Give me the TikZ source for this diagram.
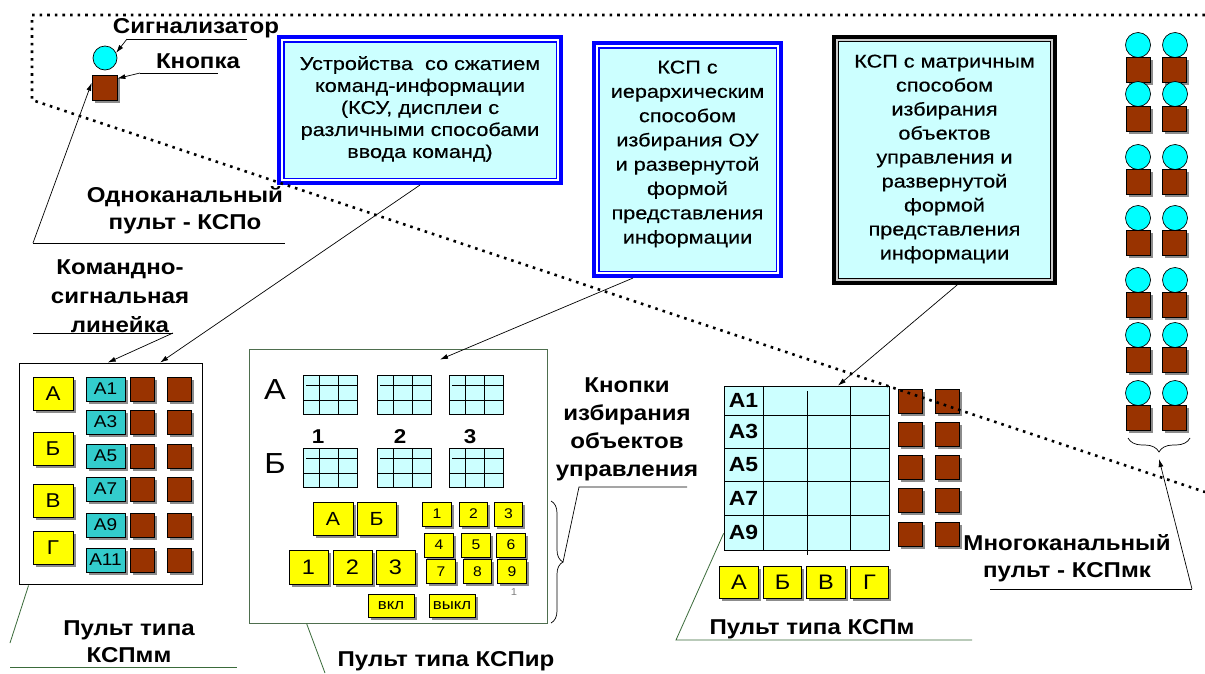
\documentclass[tikz,border=0pt]{standalone}
\usepackage{fontspec}
\setmainfont[FakeStretch=1.12]{Liberation Sans}
\newfontfamily\boxfont[FakeStretch=1.17,FakeBold=0.3]{Liberation Sans}
\usetikzlibrary{arrows.meta,shadows,calc,decorations.pathreplacing}

\definecolor{btnyellow}{HTML}{FFFF00}
\definecolor{btncyan}{HTML}{33CCCC}
\definecolor{lampcyan}{HTML}{00FFFF}
\definecolor{knobbrown}{HTML}{993300}
\definecolor{palecyan}{HTML}{CCFFFF}
\definecolor{frameblue}{HTML}{0000FF}
\definecolor{leadgreen}{HTML}{3A6B3A}
\definecolor{panelgreen}{HTML}{4E6E4E}

\tikzset{
  shd/.style={drop shadow={shadow xshift=2.5pt,shadow yshift=-2.5pt,fill=black!45,opacity=1}},
  ybtn/.style={shd,draw=black,line width=0.7pt,fill=btnyellow,inner sep=0,font=\fontsize{19}{19}\selectfont},
  cbtn/.style={shd,draw=black,line width=0.7pt,fill=btncyan,inner sep=0,
    minimum width=39pt,minimum height=24pt,font=\fontsize{17}{17}\selectfont},
  knob/.style={shd,draw=black,line width=0.7pt,fill=knobbrown,inner sep=0,
    minimum width=24pt,minimum height=24pt},
  lamp/.style={circle,draw=black,line width=0.7pt,fill=lampcyan,inner sep=0,minimum size=25pt},
  lbl/.style={font=\bfseries\fontsize{21.5}{27}\selectfont,align=center,inner sep=0},
  boxtext/.style={font=\boxfont\fontsize{18.5}{22}\selectfont,align=center,inner sep=0},
  arr/.style={-{Latex[length=8pt,width=5pt]},line width=0.7pt},
  lead/.style={line width=0.7pt},
  glead/.style={line width=0.8pt,draw=leadgreen},
  dotline/.style={line width=2.6pt,dash pattern=on 2.6pt off 5pt},
  bracedeco/.style={decorate,line width=0.7pt},
  kgrid/.pic={
    \draw[fill=palecyan,line width=0.8pt] (0,0) rectangle (54,39);
    \draw[line width=0.8pt] (16,0) -- (16,39) (35,0) -- (35,39)
      (3,10.5) -- (54,10.5) (0,25) -- (54,25);
  }
}

\begin{document}
\begin{tikzpicture}[x=1pt,y=-1pt]
\useasboundingbox (0,0) rectangle (1205,673);
\fill[white] (0,0) rectangle (1205,673);

% ---------- top boxes ----------
\node[draw=frameblue,line width=4pt,fill=palecyan,minimum width=282pt,minimum height=146pt,inner sep=0] (box1) at (420,110) {};
\draw[white,line width=2pt] ($(box1.north west)+(5,5)$) rectangle ($(box1.south east)+(-5,-5)$);
\draw[frameblue,line width=1.4pt] ($(box1.north west)+(6.8,6.8)$) rectangle ($(box1.south east)+(-6.8,-6.8)$);
\node[boxtext] (t1) at (420,109) {Устройства\ \ со сжатием\\команд-информации\\(КСУ, дисплеи с\\различными способами\\ввода команд)};

\node[draw=frameblue,line width=4pt,fill=palecyan,minimum width=187pt,minimum height=233pt,inner sep=0] (box2) at (687.5,159.5) {};
\draw[white,line width=2pt] ($(box2.north west)+(5,5)$) rectangle ($(box2.south east)+(-5,-5)$);
\draw[frameblue,line width=1.4pt] ($(box2.north west)+(6.8,6.8)$) rectangle ($(box2.south east)+(-6.8,-6.8)$);
\node[boxtext,font=\boxfont\fontsize{18.5}{24.3}\selectfont] (t2) at (687.5,154) {КСП с\\иерархическим\\способом\\избирания ОУ\\и развернутой\\формой\\представления\\информации};

\node[draw=black,line width=4pt,fill=palecyan,minimum width=221pt,minimum height=246pt,inner sep=0] (box3) at (944.5,160) {};
\draw[black!20,line width=2pt] ($(box3.north west)+(5,5)$) rectangle ($(box3.south east)+(-5,-5)$);
\draw[black,line width=1.2pt] ($(box3.north west)+(6.6,6.6)$) rectangle ($(box3.south east)+(-6.6,-6.6)$);
\node[boxtext,font=\boxfont\fontsize{18.5}{24}\selectfont] (t3) at (944.5,159) {КСП с матричным\\способом\\избирания\\объектов\\управления и\\развернутой\\формой\\представления\\информации};

% ---------- single channel element ----------
\node[lamp,minimum size=24pt] (sig) at (105,58) {};
\node[knob,minimum width=25pt,minimum height=25pt] (btn) at (104.5,87.5) {};

\node[lbl] (lsig) at (196,28) {Сигнализатор};
\node[lbl] (lbtn) at (198,61) {Кнопка};
\node[lbl] (lone) at (185,210) {Одноканальный\\пульт - КСПо};
\node[lbl,font=\bfseries\fontsize{21.5}{29}\selectfont] (lline) at (120,296) {Командно-\\сигнальная\\линейка};

\coordinate (uSa) at (127,39);  \coordinate (uSb) at (247,39);
\coordinate (uKa) at (140,73);  \coordinate (uKb) at (218,73);
\coordinate (uOa) at (33,243);  \coordinate (uOb) at (285,243);
\coordinate (uLa) at (33,333);  \coordinate (uLb) at (173,333);
\draw[lead] (uSa) -- (uSb);
\draw[lead] (uKa) -- (uKb);
\draw[lead] (uOa) -- (uOb);
\draw[lead] (uLa) -- (uLb);
\draw[arr] (uSa) -- (sig.25);
\draw[arr] (uKa) -- (btn.35);
\draw[arr] (uOa) -- (btn.160);

% ---------- panel КСПмм ----------
\node[draw=black,line width=0.9pt,minimum width=183pt,minimum height=221pt,inner sep=0] (pmm) at (110.5,473.5) {};
\foreach \t/\y [count=\i] in {А/394,Б/449,В/501,Г/548}
  \node[ybtn,minimum width=40pt,minimum height=33pt,font=\fontsize{20}{20}\selectfont] (my\i) at (53,\y) {\t};
\foreach \t/\y [count=\i] in {А1/389,А3/422,А5/456,А7/489,А9/525,А11/560}{
  \node[cbtn] (mc\i) at (105.5,\y) {\t};
  \node[knob] (mk\i) at (142,\y) {};
  \node[knob] (mq\i) at (179,\y) {};
}
\draw[arr] (uLb) -- ($(pmm.north west)!0.485!(pmm.north east)$);
\draw[arr] (box1.south) -- ($(pmm.north west)!0.77!(pmm.north east)$);

\coordinate (mmA) at (10,643);
\coordinate (mmB) at (10,667); \coordinate (mmC) at (237,667);
\draw[glead] ($(pmm.south west)+(10,1)$) -- (mmA);
\draw[glead] (mmB) -- (mmC);
\node[lbl] (lmm) at (129,642) {Пульт типа\\КСПмм};

% ---------- panel КСПир ----------
\node[draw=panelgreen,line width=0.9pt,minimum width=298pt,minimum height=274pt,inner sep=0] (pir) at (398,486) {};
\pic at (303,375) {kgrid};
\pic at (377,375) {kgrid};
\pic at (449,375) {kgrid};
\pic at (303,448) {kgrid};
\pic at (377,448) {kgrid};
\pic at (449,448) {kgrid};
\node[font=\fontsize{29}{29}\selectfont,inner sep=0] (gA) at (275,390) {А};
\node[font=\fontsize{29}{29}\selectfont,inner sep=0] (gB) at (275,464) {Б};
\node[font=\bfseries\fontsize{20}{20}\selectfont,inner sep=0] (n1) at (318,437) {1};
\node[font=\bfseries\fontsize{20}{20}\selectfont,inner sep=0] (n2) at (400,437) {2};
\node[font=\bfseries\fontsize{20}{20}\selectfont,inner sep=0] (n3) at (470,437) {3};

\node[ybtn,minimum width=40pt,minimum height=33pt] (iA) at (333,518.5) {А};
\node[ybtn,minimum width=39pt,minimum height=33pt] (iB) at (376.5,518.5) {Б};
\node[ybtn,minimum width=39pt,minimum height=34pt,font=\fontsize{21}{21}\selectfont] (i1) at (308.5,567) {1};
\node[ybtn,minimum width=39pt,minimum height=34pt,font=\fontsize{21}{21}\selectfont] (i2) at (352.5,567) {2};
\node[ybtn,minimum width=39pt,minimum height=34pt,font=\fontsize{21}{21}\selectfont] (i3) at (395.5,567) {3};
\foreach \t/\x/\y in {1/437/514,2/473.5/514,3/508.5/514,4/439/545,5/476/545,6/511/545,7/441/571.5,8/477.5/571.5,9/512/571.5}
  \node[ybtn,minimum width=28.5pt,minimum height=24pt,font=\fontsize{14}{14}\selectfont] (kp\t) at (\x,\y) {\t};
\node[ybtn,minimum width=46pt,minimum height=23pt,font=\fontsize{15}{15}\selectfont] (von) at (391,605.5) {вкл};
\node[ybtn,minimum width=46pt,minimum height=23pt,font=\fontsize{15}{15}\selectfont] (voff) at (452,605.5) {выкл};
\node[font=\fontsize{10}{10}\selectfont,text=black!50,inner sep=0] (cur) at (514,592) {1};

\draw[arr] ($(box2.south west)!0.215!(box2.south east)$) -- ($(pir.north)+(42,11)$);

\coordinate (irEnd) at (325,673);
\draw[glead] ($(pir.south west)+(58,0)$) -- (irEnd);
\node[lbl] (lir) at (446,661) {Пульт типа КСПир};

% selection buttons brace and label
\coordinate (brTop) at (551,501); \coordinate (brBot) at (551,623);
\draw[bracedeco,decoration={brace,amplitude=12pt}] (brTop) -- (brBot);
\coordinate (brTip) at (563,562);
\node[lbl,font=\bfseries\fontsize{21.5}{28}\selectfont] (lsel) at (627,429) {Кнопки\\избирания\\объектов\\управления};
\coordinate (uUa) at (579,487); \coordinate (uUb) at (687,487);
\draw[lead] (brTip) -- (uUa) -- (uUb);

% ---------- panel КСПм ----------
\node[draw=black,line width=0.8pt,fill=palecyan,minimum width=165pt,minimum height=164pt,inner sep=0] (mgrid) at (806.5,468) {};
\draw[line width=0.8pt] (724,415) -- (889,415) (724,448) -- (889,448)
  (724,481) -- (889,481) (724,515) -- (889,515)
  (763,386) -- (763,550) (850,386) -- (850,550) (807,391) -- (807,555);
\foreach \t/\y in {А1/400.5,А3/431.5,А5/464.5,А7/498,А9/532.5}
  \node[font=\bfseries\fontsize{20.5}{20.5}\selectfont,inner sep=0] (r\t) at (743.5,\y) {\t};
\foreach \y [count=\i] in {401,434.5,467.5,500.5,534}{
  \node[knob] (rk\i) at (910,\y) {};
  \node[knob] (rq\i) at (947,\y) {};
}
\foreach \t/\x [count=\i] in {А/739,Б/782.5,В/826,Г/869.5}
  \node[ybtn,minimum width=38.5pt,minimum height=32pt,font=\fontsize{21}{21}\selectfont] (ry\i) at (\x,582) {\t};

\draw[arr] ($(box3.south west)!0.556!(box3.south east)$) -- ($(mgrid.north west)!0.69!(mgrid.north east)$);

\coordinate (mA) at (676,640); \coordinate (mB) at (972,640);
\draw[glead] ($(mgrid.south west)+(0,-17)$) -- (mA) -- (mB);
\node[lbl] (lm) at (812,629) {Пульт типа КСПм};

% ---------- multichannel column ----------
\foreach \y [count=\i] in {45,94,157,218,280,335,393}{
  \node[lamp] (la\i) at (1138,\y) {};
  \node[knob,minimum height=25pt] (ka\i) at (1138,\y+25) {};
  \node[lamp] (lb\i) at (1175,\y) {};
  \node[knob,minimum height=25pt] (kb\i) at (1174.5,\y+25) {};
}
\coordinate (cbL) at (1128,438); \coordinate (cbR) at (1190,438);
\draw[bracedeco,decoration={brace,amplitude=14pt,mirror}] (cbL) -- (cbR);
\coordinate (cbTip) at (1159,459);
\node[lbl] (lmk) at (1067,558.5) {Многоканальный\\пульт - КСПмк};
\coordinate (uMa) at (990,589); \coordinate (uMb) at (1192,589);
\draw[lead] (uMa) -- (uMb);
\draw[arr] (uMb) -- (cbTip);

% ---------- dotted boundary ----------
\draw[dotline] (1205,15) -- (32,15) -- (32,100) -- (1205,492);
\end{tikzpicture}
\end{document}
